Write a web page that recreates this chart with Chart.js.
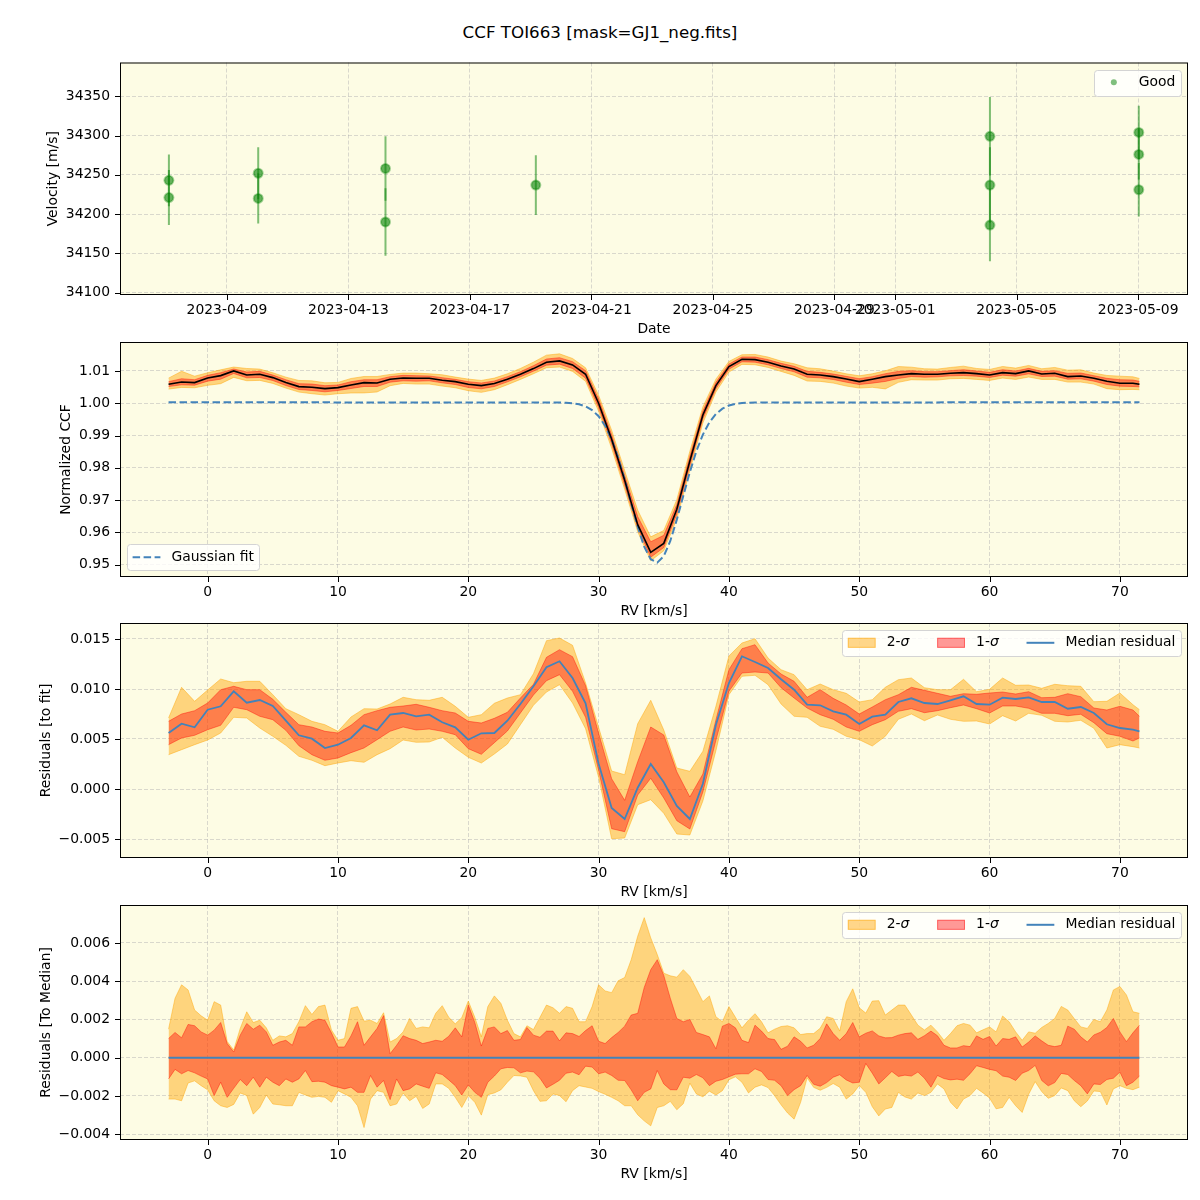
<!DOCTYPE html>
<html lang="en">
<head>
<meta charset="UTF-8">
<title>CCF TOI663 [mask=GJ1_neg.fits]</title>
<script src="https://cdn.jsdelivr.net/npm/chart.js"></script>
<style>
  body { margin: 0; background: #ffffff; }
  #fig { position: relative; width: 1200px; height: 1200px; font-family: "DejaVu Sans", sans-serif; color: #000; }
  #fig h1 { position: absolute; left: 0; top: 21px; width: 1200px; margin: 0; text-align: center; font-size: 16.7px; font-weight: normal; line-height: 22px; }
  #fig canvas { position: absolute; left: 0; }
</style>
</head>
<body>
<div id="fig">
  <h1>CCF TOI663 [mask=GJ1_neg.fits]</h1>
  <canvas id="rvChart" width="1200" height="283" style="top:56px"></canvas>
  <canvas id="ccfChart" width="1200" height="283" style="top:338px"></canvas>
  <canvas id="resChart" width="1200" height="283" style="top:619px"></canvas>
  <canvas id="devChart" width="1200" height="283" style="top:901px"></canvas>
</div>
<script>
// ---------- panel 1: RV time series (days counted from 2023-04-01) ----------
const obsDay = [6.09, 6.09, 9.03, 9.03, 13.22, 13.22, 18.17, 33.12, 33.12, 33.12, 38.02, 38.02, 38.02];
const obsVel = [34243, 34221, 34252, 34220, 34258, 34190, 34237, 34299, 34237, 34186, 34304, 34276, 34231];
const obsErr = [33, 35, 33, 32, 41, 43, 38, 50, 48, 46, 34, 32, 34];
const dateTicks = [8, 12, 16, 20, 24, 28, 30, 34, 38];
const dateLabels = ['2023-04-09', '2023-04-13', '2023-04-17', '2023-04-21', '2023-04-25',
                    '2023-04-29', '2023-05-01', '2023-05-05', '2023-05-09'];

// ---------- panels 2 and 3: 1 km/s grid ----------
const rvCoarse = [-3, -2, -1, 0, 1, 2, 3, 4, 5, 6, 7, 8, 9, 10, 11, 12, 13, 14, 15, 16, 17, 18, 19, 20,
  21, 22, 23, 24, 25, 26, 27, 28, 29, 30, 31, 32, 33, 34, 35, 36, 37, 38, 39, 40, 41, 42, 43, 44, 45,
  46, 47, 48, 49, 50, 51, 52, 53, 54, 55, 56, 57, 58, 59, 60, 61, 62, 63, 64, 65, 66, 67, 68, 69, 70, 71, 71.5];

const ccfMedian = [
  1.00589, 1.00661, 1.00640, 1.00785, 1.00857, 1.01002, 1.00878, 1.00899, 1.00795, 1.00640,
  1.00517, 1.00496, 1.00455, 1.00486, 1.00568, 1.00640, 1.00630, 1.00744, 1.00785, 1.00775,
  1.00775, 1.00713, 1.00671, 1.00589, 1.00548, 1.00610, 1.00744, 1.00899, 1.01074, 1.01271,
  1.01312, 1.01188, 1.00899, 1.00000, 0.98884, 0.97614, 0.96240, 0.95382, 0.95661, 0.96715,
  0.98213, 0.99638, 1.00548, 1.01136, 1.01364, 1.01353, 1.01271, 1.01157, 1.01064, 1.00899,
  1.00878, 1.00826, 1.00754, 1.00671, 1.00744, 1.00826, 1.00878, 1.00919, 1.00899, 1.00899,
  1.00930, 1.00950, 1.00919, 1.00878, 1.00950, 1.00919, 1.01002, 1.00909, 1.00930, 1.00826,
  1.00847, 1.00775, 1.00682, 1.00620, 1.00620, 1.00589];
const ccf2Hi = [
  1.00779, 1.00991, 1.00840, 1.00945, 1.01037, 1.01122, 1.01078, 1.01059, 1.00945, 1.00810,
  1.00707, 1.00696, 1.00635, 1.00646, 1.00768, 1.00830, 1.00830, 1.00894, 1.00935, 1.00935,
  1.00915, 1.00883, 1.00811, 1.00749, 1.00708, 1.00780, 1.00914, 1.01079, 1.01274, 1.01491,
  1.01532, 1.01388, 1.01099, 1.00250, 0.99164, 0.97914, 0.96690, 0.95862, 0.96061, 0.97015,
  0.98513, 0.99888, 1.00748, 1.01296, 1.01504, 1.01513, 1.01431, 1.01307, 1.01224, 1.01099,
  1.01068, 1.00996, 1.00914, 1.00851, 1.00914, 1.01006, 1.01138, 1.01119, 1.01069, 1.01059,
  1.01110, 1.01150, 1.01079, 1.01048, 1.01140, 1.01089, 1.01172, 1.01069, 1.01110, 1.01026,
  1.01037, 1.00935, 1.00862, 1.00840, 1.00820, 1.00769];
const ccf1Hi = [
  1.00669, 1.00761, 1.00730, 1.00865, 1.00947, 1.01062, 1.00968, 1.00989, 1.00875, 1.00730,
  1.00607, 1.00596, 1.00545, 1.00566, 1.00668, 1.00730, 1.00730, 1.00824, 1.00865, 1.00855,
  1.00845, 1.00793, 1.00741, 1.00669, 1.00628, 1.00690, 1.00824, 1.00979, 1.01164, 1.01371,
  1.01412, 1.01288, 1.01009, 1.00130, 0.99024, 0.97764, 0.96490, 0.95712, 0.95911, 0.96865,
  0.98363, 0.99758, 1.00648, 1.01216, 1.01434, 1.01433, 1.01351, 1.01237, 1.01144, 1.00989,
  1.00958, 1.00906, 1.00834, 1.00761, 1.00824, 1.00916, 1.00988, 1.01009, 1.00979, 1.00979,
  1.01010, 1.01040, 1.00999, 1.00958, 1.01040, 1.00999, 1.01082, 1.00989, 1.01010, 1.00926,
  1.00937, 1.00855, 1.00772, 1.00730, 1.00720, 1.00679];
const ccf1Lo = [
  1.00519, 1.00571, 1.00560, 1.00685, 1.00747, 1.00922, 1.00788, 1.00799, 1.00705, 1.00550,
  1.00427, 1.00396, 1.00355, 1.00396, 1.00458, 1.00520, 1.00520, 1.00654, 1.00695, 1.00685,
  1.00695, 1.00633, 1.00581, 1.00489, 1.00448, 1.00520, 1.00664, 1.00819, 1.00994, 1.01181,
  1.01212, 1.01078, 1.00779, 0.99870, 0.98744, 0.97464, 0.96140, 0.95232, 0.95531, 0.96565,
  0.98063, 0.99518, 1.00448, 1.01056, 1.01284, 1.01273, 1.01191, 1.01077, 1.00974, 1.00809,
  1.00788, 1.00736, 1.00654, 1.00581, 1.00624, 1.00676, 1.00768, 1.00829, 1.00809, 1.00819,
  1.00850, 1.00860, 1.00839, 1.00798, 1.00870, 1.00839, 1.00912, 1.00829, 1.00840, 1.00746,
  1.00757, 1.00685, 1.00582, 1.00530, 1.00520, 1.00509];
const ccf2Lo = [
  1.00439, 1.00491, 1.00480, 1.00555, 1.00607, 1.00802, 1.00698, 1.00709, 1.00615, 1.00470,
  1.00347, 1.00296, 1.00255, 1.00296, 1.00318, 1.00320, 1.00350, 1.00544, 1.00615, 1.00595,
  1.00595, 1.00533, 1.00481, 1.00389, 1.00338, 1.00420, 1.00574, 1.00739, 1.00914, 1.01101,
  1.01122, 1.00988, 1.00679, 0.99750, 0.98604, 0.97334, 0.96020, 0.95122, 0.95431, 0.96415,
  0.97913, 0.99388, 1.00348, 1.00966, 1.01204, 1.01193, 1.01111, 1.00987, 1.00864, 1.00689,
  1.00678, 1.00626, 1.00534, 1.00471, 1.00494, 1.00446, 1.00648, 1.00729, 1.00719, 1.00719,
  1.00760, 1.00770, 1.00739, 1.00708, 1.00780, 1.00739, 1.00812, 1.00739, 1.00740, 1.00656,
  1.00657, 1.00595, 1.00452, 1.00420, 1.00430, 1.00419];

const gaussRv = [-3, 27, 27.5, 28, 28.5, 29, 29.5, 30, 30.5, 31, 31.5, 32, 32.5, 33, 33.5, 34, 34.5,
  35, 35.5, 36, 36.5, 37, 37.5, 38, 38.5, 39, 39.5, 40, 40.5, 41, 42, 71.5];
const gaussCcf = [1.00030, 1.00025, 1.00018, 1.00001, 0.99968, 0.99904, 0.99789, 0.99598, 0.99302,
  0.98879, 0.98318, 0.97639, 0.96894, 0.96168, 0.95557, 0.95169, 0.95065, 0.95264, 0.95736, 0.96392,
  0.97137, 0.97868, 0.98514, 0.99029, 0.99410, 0.99669, 0.99833, 0.99929, 0.99981, 1.00008, 1.00026, 1.00030];

// residuals to the fit, in units of 1e-3
const resMed = [
  5.60, 6.53, 6.17, 7.93, 8.27, 9.77, 8.63, 8.90, 8.30, 6.83,
  5.37, 5.03, 4.10, 4.43, 5.10, 6.37, 5.87, 7.43, 7.60, 7.27,
  7.43, 6.67, 6.17, 4.93, 5.57, 5.60, 6.83, 8.50, 10.27, 12.17,
  12.77, 11.10, 8.57, 2.53, -1.90, -3.00, 0.13, 2.50, 0.67, -1.69,
  -3.00, 0.53, 6.43, 10.60, 13.27, 12.70, 12.10, 10.97, 9.93, 8.43,
  8.37, 7.77, 7.43, 6.50, 7.23, 7.43, 8.70, 9.07, 8.60, 8.50,
  8.87, 9.27, 8.50, 8.43, 9.13, 9.00, 9.17, 8.70, 8.70, 8.03,
  8.20, 7.60, 6.47, 6.10, 5.93, 5.77];
const res1Hi = [
  6.77, 7.50, 7.83, 8.60, 9.93, 10.27, 9.93, 9.93, 8.97, 7.67,
  6.43, 6.20, 5.77, 5.60, 6.37, 7.43, 7.83, 8.17, 8.30, 8.47,
  8.17, 7.83, 7.60, 6.77, 6.60, 7.07, 7.67, 9.10, 10.47, 13.17,
  13.93, 13.23, 10.33, 5.57, 1.03, -1.13, 2.73, 6.20, 5.40, 1.72,
  -0.80, 1.50, 6.90, 11.93, 14.03, 14.43, 12.60, 11.50, 10.77, 9.17,
  9.93, 9.07, 8.40, 7.50, 8.20, 8.93, 9.43, 10.17, 9.87, 9.57,
  9.27, 9.53, 9.47, 9.60, 9.70, 9.50, 9.73, 9.13, 9.17, 9.53,
  9.23, 8.10, 7.90, 8.27, 7.90, 7.27];
const res1Lo = [
  4.43, 5.10, 5.37, 5.93, 6.37, 8.17, 7.93, 7.27, 6.93, 5.87,
  4.33, 3.43, 2.87, 3.10, 3.63, 4.10, 4.93, 5.77, 6.20, 5.90,
  6.00, 5.77, 5.43, 4.03, 3.47, 4.63, 5.80, 7.60, 9.40, 10.83,
  11.43, 9.77, 7.17, 1.87, -3.97, -4.27, -0.60, 1.07, -0.90, -3.17,
  -4.00, -0.30, 4.87, 9.77, 11.60, 11.70, 11.60, 10.13, 9.10, 8.10,
  7.43, 6.97, 6.20, 5.77, 6.43, 6.93, 7.77, 8.03, 7.63, 7.83,
  8.13, 8.40, 8.03, 7.60, 8.30, 8.30, 8.07, 7.57, 7.57, 7.33,
  7.47, 6.63, 5.53, 5.27, 4.80, 5.10];
const res2Hi = [
  7.10, 10.17, 8.77, 9.90, 11.00, 10.63, 10.77, 10.77, 9.43, 8.03,
  7.43, 6.77, 6.43, 5.77, 7.20, 8.03, 8.00, 8.50, 9.17, 8.93,
  8.87, 9.17, 8.27, 7.17, 7.43, 8.57, 9.10, 9.43, 11.53, 14.83,
  15.10, 14.37, 10.60, 6.17, 1.80, 1.43, 6.53, 8.87, 5.90, 2.10,
  1.77, 3.77, 8.27, 13.30, 14.60, 15.03, 13.10, 11.93, 11.43, 9.93,
  10.50, 9.93, 9.57, 8.70, 8.93, 10.17, 10.93, 11.10, 10.13, 9.93,
  9.93, 10.97, 9.73, 9.97, 11.10, 10.37, 10.40, 10.07, 10.47, 10.33,
  10.27, 8.73, 8.77, 9.60, 8.43, 7.93];
const res2Lo = [
  3.43, 3.93, 4.43, 4.90, 5.60, 7.17, 7.10, 6.10, 5.27, 4.37,
  3.27, 2.87, 2.33, 2.60, 2.83, 2.67, 3.43, 4.03, 4.90, 4.67,
  4.70, 5.17, 4.10, 3.17, 2.60, 3.50, 4.50, 6.43, 8.37, 9.70,
  10.43, 8.60, 6.03, 1.17, -4.97, -4.90, -1.57, -1.07, -2.43, -4.50,
  -4.60, -1.20, 3.83, 9.43, 11.27, 11.37, 10.43, 8.50, 7.27, 7.17,
  6.27, 5.97, 5.27, 4.93, 4.30, 5.27, 6.97, 7.50, 6.83, 7.40,
  6.97, 6.77, 6.80, 6.50, 7.33, 6.80, 7.57, 7.37, 6.77, 6.70,
  6.87, 6.07, 4.10, 4.43, 4.23, 4.10];

// ---------- panel 4: 0.5 km/s grid, residuals to the median, units of 1e-3 ----------
const rvFine = [-3, -2.5, -2, -1.5, -1, -0.5, 0, 0.5, 1, 1.5, 2, 2.5, 3, 3.5, 4, 4.5, 5, 5.5, 6, 6.5,
  7, 7.5, 8, 8.5, 9, 9.5, 10, 10.5, 11, 11.5, 12, 12.5, 13, 13.5, 14, 14.5, 15, 15.5, 16, 16.5,
  17, 17.5, 18, 18.5, 19, 19.5, 20, 20.5, 21, 21.5, 22, 22.5, 23, 23.5, 24, 24.5, 25, 25.5, 26, 26.5,
  27, 27.5, 28, 28.5, 29, 29.5, 30, 30.5, 31, 31.5, 32, 32.5, 33, 33.5, 34, 34.5, 35, 35.5, 36, 36.5,
  37, 37.5, 38, 38.5, 39, 39.5, 40, 40.5, 41, 41.5, 42, 42.5, 43, 43.5, 44, 44.5, 45, 45.5, 46, 46.5,
  47, 47.5, 48, 48.5, 49, 49.5, 50, 50.5, 51, 51.5, 52, 52.5, 53, 53.5, 54, 54.5, 55, 55.5, 56, 56.5,
  57, 57.5, 58, 58.5, 59, 59.5, 60, 60.5, 61, 61.5, 62, 62.5, 63, 63.5, 64, 64.5, 65, 65.5, 66, 66.5,
  67, 67.5, 68, 68.5, 69, 69.5, 70, 70.5, 71, 71.5];
const dev2Hi = [
  1.49, 3.11, 3.81, 3.54, 2.49, 2.19, 1.96, 2.93, 2.75, 0.85,
  0.40, 1.53, 2.40, 1.84, 1.96, 1.56, 0.91, 1.14, 1.09, 1.26,
  1.88, 2.72, 2.26, 2.67, 2.75, 1.45, 0.91, 1.00, 2.58, 2.67,
  1.91, 1.96, 1.79, 2.35, 0.82, 1.00, 1.35, 2.05, 1.53, 1.61,
  1.56, 2.32, 2.72, 2.11, 1.77, 2.09, 2.96, 2.11, 1.09, 2.67,
  3.23, 2.84, 1.96, 1.26, 1.09, 1.67, 1.47, 2.11, 2.75, 2.61,
  2.32, 2.67, 2.58, 1.88, 1.88, 2.67, 3.81, 3.49, 3.40, 4.02,
  4.19, 5.12, 6.35, 7.32, 6.26, 5.39, 4.42, 4.28, 4.21, 4.60,
  4.25, 3.60, 2.93, 3.23, 2.14, 1.88, 2.67, 2.11, 1.56, 1.96,
  2.30, 1.88, 1.30, 1.49, 1.63, 1.67, 1.56, 1.21, 1.26, 1.26,
  1.54, 2.14, 2.05, 1.39, 2.93, 3.60, 2.61, 2.33, 2.96, 2.98,
  2.23, 2.49, 2.75, 2.75, 2.23, 1.70, 1.45, 1.70, 1.35, 0.91,
  1.26, 1.67, 1.79, 1.70, 1.30, 1.46, 1.61, 1.35, 2.18, 1.88,
  1.35, 0.91, 1.35, 1.28, 1.58, 1.79, 2.05, 2.68, 2.49, 2.04,
  1.61, 1.53, 2.00, 1.88, 2.49, 3.54, 3.72, 3.28, 2.40, 2.32];
const dev1Hi = [
  1.00, 1.32, 1.04, 1.74, 1.67, 1.35, 1.18, 1.44, 1.84, 0.74,
  0.30, 1.18, 1.79, 1.49, 1.70, 1.35, 0.65, 0.82, 0.91, 0.65,
  1.61, 1.61, 1.88, 2.02, 1.96, 1.30, 0.56, 0.56, 1.14, 1.88,
  0.65, 1.09, 1.53, 2.20, 0.21, 0.65, 1.15, 1.00, 0.91, 0.74,
  0.82, 0.91, 0.86, 1.12, 1.56, 1.09, 2.75, 1.84, 0.61, 1.53,
  1.61, 1.26, 1.42, 0.91, 0.95, 1.58, 1.18, 1.07, 1.39, 1.39,
  0.88, 1.30, 1.26, 1.11, 1.42, 1.67, 0.86, 0.74, 1.05, 1.32,
  1.65, 2.23, 2.32, 3.67, 4.60, 5.12, 4.30, 3.11, 2.05, 1.88,
  2.00, 1.32, 1.21, 1.09, 0.47, 1.65, 1.79, 1.56, 0.91, 0.79,
  1.70, 1.39, 1.00, 0.95, 0.44, 0.60, 1.09, 0.86, 0.51, 0.65,
  1.00, 1.77, 1.26, 0.91, 1.26, 1.84, 1.09, 1.28, 1.40, 1.14,
  1.04, 1.05, 1.18, 1.26, 1.30, 0.96, 1.15, 1.39, 1.15, 0.65,
  0.51, 0.51, 0.63, 0.58, 1.14, 0.96, 1.11, 0.61, 1.00, 0.96,
  1.09, 0.56, 0.82, 1.14, 0.88, 0.65, 0.58, 0.65, 1.65, 1.49,
  1.09, 0.82, 1.19, 1.33, 1.58, 2.05, 1.35, 0.84, 1.30, 1.70];
const dev1Lo = [
  -1.11, -0.61, -0.84, -0.67, -0.79, -0.96, -1.11, -1.98, -1.28, -2.07,
  -1.60, -1.14, -1.46, -1.02, -1.54, -1.02, -1.28, -1.46, -1.11, -1.28,
  -1.11, -0.67, -1.25, -1.23, -1.28, -1.46, -1.54, -1.63, -1.54, -1.81,
  -1.81, -0.93, -1.54, -1.19, -2.19, -1.11, -1.72, -1.63, -1.37, -1.49,
  -1.60, -0.79, -0.88, -1.16, -1.46, -1.95, -1.42, -1.81, -2.07, -1.28,
  -0.96, -0.58, -0.51, -0.53, -0.79, -0.70, -0.74, -1.07, -1.58, -1.39,
  -1.18, -0.81, -0.75, -0.89, -0.44, -0.49, -0.84, -0.75, -0.93, -1.18,
  -1.19, -1.68, -2.25, -1.81, -1.63, -0.67, -1.37, -1.67, -1.68, -1.02,
  -1.07, -0.88, -1.05, -1.46, -1.23, -1.14, -1.00, -0.86, -0.84, -0.84,
  -0.58, -0.72, -1.14, -1.18, -1.46, -1.98, -1.67, -1.46, -0.93, -1.39,
  -1.49, -1.30, -1.02, -0.89, -1.16, -1.32, -1.28, -0.30, -0.81, -1.37,
  -1.05, -0.72, -0.98, -0.91, -0.96, -0.75, -1.07, -1.54, -0.93, -1.09,
  -1.16, -1.12, -1.18, -0.84, -0.42, -0.51, -0.61, -0.68, -0.96, -1.02,
  -1.19, -0.81, -0.67, -0.40, -1.19, -1.47, -1.30, -0.82, -0.88, -1.19,
  -1.46, -1.89, -1.37, -1.40, -1.14, -1.07, -0.75, -1.46, -1.28, -0.96];
const dev2Lo = [
  -2.16, -2.16, -2.25, -1.32, -1.21, -1.46, -1.68, -2.25, -2.51, -2.60,
  -2.44, -1.84, -1.98, -2.95, -2.60, -1.95, -2.42, -2.46, -2.51, -2.51,
  -1.81, -1.95, -2.07, -2.02, -2.07, -2.33, -1.72, -1.89, -2.07, -2.51,
  -3.65, -2.16, -1.72, -1.81, -2.51, -2.42, -1.85, -2.25, -2.02, -2.65,
  -2.42, -1.37, -1.37, -1.60, -2.07, -2.60, -1.98, -2.33, -3.00, -1.93,
  -1.84, -1.68, -1.28, -0.93, -0.95, -1.02, -1.72, -2.28, -2.25, -1.89,
  -1.98, -2.30, -1.72, -1.46, -1.53, -1.60, -1.77, -1.91, -2.07, -2.25,
  -2.51, -2.51, -2.98, -3.30, -3.56, -2.60, -2.51, -2.28, -2.72, -2.40,
  -1.33, -1.89, -2.04, -1.75, -1.95, -1.72, -1.15, -1.00, -1.28, -1.84,
  -1.54, -1.42, -1.56, -1.98, -2.46, -2.89, -3.21, -2.33, -1.05, -1.55,
  -1.70, -1.55, -1.35, -1.54, -2.16, -1.89, -1.45, -1.81, -2.56, -3.04,
  -2.68, -2.60, -1.81, -2.05, -2.16, -1.84, -1.98, -1.81, -1.37, -1.63,
  -2.33, -2.68, -2.16, -1.98, -1.60, -1.84, -2.11, -2.67, -2.60, -2.07,
  -2.51, -2.86, -1.91, -1.25, -1.77, -2.12, -1.98, -1.58, -1.72, -2.25,
  -2.56, -2.26, -1.74, -1.77, -2.47, -1.63, -1.46, -1.60, -1.67, -1.54];
const devLineRv = [-3, 71.5];
const devLine = [0, 0];

// ---------- styling ----------
Chart.defaults.font.family = '"DejaVu Sans", sans-serif';
Chart.defaults.font.size = 13.9;
Chart.defaults.color = '#000';
Chart.defaults.animation = false;
Chart.defaults.events = [];
Chart.defaults.plugins.legend.display = false;
Chart.defaults.plugins.tooltip.enabled = false;

const PLOT_BG = '#fdfce4';
const GRID = 'rgba(176,176,176,0.6)';
const BLUE = '#4383ba';
const BAND2 = 'rgba(255,165,0,0.45)';
const BAND1 = 'rgba(255,0,0,0.4)';
const GREEN_PT = 'rgba(0,128,0,0.6)';
const GREEN_BAR = 'rgba(0,128,0,0.5)';
const milli = arr => arr.map(v => v / 1000);

// yellow plot area, black frame and outward tick marks
const frame = {
  id: 'frame',
  beforeDraw(chart) {
    const { ctx, chartArea: a } = chart;
    ctx.save();
    ctx.fillStyle = PLOT_BG;
    ctx.fillRect(a.left, a.top, a.right - a.left, a.bottom - a.top);
    ctx.restore();
  },
  afterDraw(chart) {
    const { ctx, chartArea: a, scales } = chart;
    ctx.save();
    ctx.strokeStyle = '#000';
    ctx.lineWidth = 1;
    ctx.strokeRect(a.left + 0.5, a.top + 0.5, a.right - a.left - 1, a.bottom - a.top - 1);
    ctx.beginPath();
    scales.x.ticks.forEach((t, i) => {
      const px = Math.round(scales.x.getPixelForTick(i)) + 0.5;
      ctx.moveTo(px, a.bottom); ctx.lineTo(px, a.bottom + 5);
    });
    scales.y.ticks.forEach((t, i) => {
      const py = Math.round(scales.y.getPixelForTick(i)) + 0.5;
      ctx.moveTo(a.left - 5, py); ctx.lineTo(a.left, py);
    });
    ctx.stroke();
    ctx.restore();
  }
};

// matplotlib-like legend box inside the axes
const boxLegend = {
  id: 'boxLegend',
  afterDraw(chart, args, opts) {
    const items = opts.items;
    if (!items) return;
    const ctx = chart.ctx, a = chart.chartArea;
    const font = '13.9px "DejaVu Sans"', ifont = 'italic 13.9px "DejaVu Sans"';
    ctx.save();
    const widths = items.map(it => {
      ctx.font = font;
      let w = ctx.measureText(it.label).width;
      if (it.em) { ctx.font = ifont; w += ctx.measureText(it.em).width; }
      return w;
    });
    const pad = 5.6, handle = 27.8, gap = 11.1, col = 27.8, h = 25.6;
    const w = pad * 2 + widths.reduce((s, tw) => s + handle + gap + tw, 0) + col * (items.length - 1);
    const x0 = opts.corner === 'bl' ? a.left + 7 : a.right - 7 - w;
    const y0 = opts.corner === 'bl' ? a.bottom - 7 - h : a.top + 7;
    ctx.beginPath();
    ctx.roundRect(Math.round(x0) + 0.5, Math.round(y0) + 0.5, Math.round(w), Math.round(h), 3);
    ctx.fillStyle = 'rgba(255,255,255,0.8)';
    ctx.fill();
    ctx.strokeStyle = '#d4d4d4';
    ctx.lineWidth = 1;
    ctx.stroke();
    const cy = y0 + h / 2;
    let x = x0 + pad;
    items.forEach((it, i) => {
      ctx.save();
      if (it.sym === 'patch') {
        ctx.fillStyle = it.color;
        ctx.fillRect(x, cy - 5, handle, 10);
        ctx.strokeStyle = it.color;
        ctx.strokeRect(x + 0.5, cy - 4.5, handle - 1, 9);
      } else if (it.sym === 'line' || it.sym === 'dash') {
        ctx.strokeStyle = it.color;
        ctx.lineWidth = 2;
        if (it.sym === 'dash') ctx.setLineDash([7.5, 3.5]);
        ctx.beginPath(); ctx.moveTo(x, cy); ctx.lineTo(x + handle, cy); ctx.stroke();
      } else if (it.sym === 'dot') {
        ctx.fillStyle = it.color;
        ctx.beginPath(); ctx.arc(x + handle / 2, cy, 3, 0, Math.PI * 2); ctx.fill();
      }
      ctx.restore();
      let tx = x + handle + gap;
      ctx.fillStyle = '#000';
      ctx.textBaseline = 'middle';
      ctx.textAlign = 'left';
      ctx.font = font;
      ctx.fillText(it.label, tx, cy);
      if (it.em) {
        tx += ctx.measureText(it.label).width;
        ctx.font = ifont;
        ctx.fillText(it.em, tx, cy);
      }
      x += handle + gap + widths[i] + col;
    });
    ctx.restore();
  }
};

function fmt(digits) {
  return v => digits == null ? String(v) : (v < -1e-12 ? '\u2212' : '') + Math.abs(v).toFixed(digits);
}

function yAxis(min, max, step, digits, title, titleCenter) {
  return {
    type: 'linear', min, max,
    ticks: { stepSize: step, includeBounds: false, padding: 10, callback: fmt(digits) },
    grid: { color: GRID, lineWidth: 0.8, drawTicks: false },
    border: { display: false, dash: [4, 2] },
    title: { display: true, text: title, padding: { top: titleCenter - 8.34, bottom: 0 } },
    afterFit(s) { s.width = 120; s.paddingTop = 0; s.paddingBottom = 0; }
  };
}

function xAxisBase(title) {
  return {
    type: 'linear',
    grid: { color: GRID, lineWidth: 0.8, drawTicks: false },
    border: { display: false, dash: [4, 2] },
    title: { display: true, text: title, padding: { top: 0, bottom: 1 } },
    afterFit(s) { s.height = 44; s.paddingLeft = 0; s.paddingRight = 0; }
  };
}

function rvAxis() {
  return Object.assign(xAxisBase('RV [km/s]'), {
    min: -6.725, max: 75.225,
    ticks: { stepSize: 10, includeBounds: false, padding: 7, maxRotation: 0 }
  });
}

function series(xs, ys, extra) {
  return Object.assign({
    data: xs.map((x, i) => ({ x, y: ys[i] })),
    pointRadius: 0, borderWidth: 0, fill: false, tension: 0
  }, extra);
}

function bands(xs, hi1, lo1, hi2, lo2) {
  return [
    series(xs, hi1, { fill: '+1', backgroundColor: BAND1, borderColor: BAND1, borderWidth: 1, order: 1 }),
    series(xs, lo1, { borderColor: BAND1, borderWidth: 1, order: 1 }),
    series(xs, hi2, { fill: '+1', backgroundColor: BAND2, borderColor: BAND2, borderWidth: 1, order: 2 }),
    series(xs, lo2, { borderColor: BAND2, borderWidth: 1, order: 2 })
  ];
}

const common = {
  responsive: false,
  devicePixelRatio: 1,
  layout: { padding: { top: 4, right: 12, left: 0, bottom: 0 } }
};

const sigmaLegend = [
  { sym: 'patch', color: BAND2, label: '2-', em: 'σ' },
  { sym: 'patch', color: BAND1, label: '1-', em: 'σ' },
  { sym: 'line', color: BLUE, label: 'Median residual' }
];

// ---------- panel 1 ----------
const errorBars = obsDay.map((d, i) => ({
  showLine: true,
  data: [{ x: d, y: obsVel[i] - obsErr[i] }, { x: d, y: obsVel[i] + obsErr[i] }],
  borderColor: GREEN_BAR, borderWidth: 2, pointRadius: 0, order: 1
}));

new Chart(document.getElementById('rvChart'), {
  type: 'scatter',
  data: {
    datasets: [{
      data: obsDay.map((d, i) => ({ x: d, y: obsVel[i] })),
      pointRadius: 4.5, pointBackgroundColor: GREEN_PT,
      pointBorderColor: 'rgba(0,128,0,0.35)', pointBorderWidth: 2, order: 0
    }].concat(errorBars)
  },
  options: Object.assign({}, common, {
    scales: {
      x: Object.assign(xAxisBase('Date'), {
        min: 4.48, max: 39.64,
        afterBuildTicks(s) { s.ticks = dateTicks.map(v => ({ value: v })); },
        ticks: { autoSkip: false, maxRotation: 0, padding: 7, callback: (v, i) => dateLabels[i] }
      }),
      y: yAxis(34097, 34393, 50, null, 'Velocity [m/s]', 53)
    },
    plugins: { boxLegend: { corner: 'tr', items: [{ sym: 'dot', color: 'rgba(0,128,0,0.5)', label: 'Good' }] } }
  }),
  plugins: [frame, boxLegend]
});

// ---------- panel 2 ----------
new Chart(document.getElementById('ccfChart'), {
  type: 'line',
  data: {
    datasets: [
      series(rvCoarse, ccfMedian, { borderColor: '#000', borderWidth: 1.6, order: 0 }),
      series(gaussRv, gaussCcf, { borderColor: BLUE, borderWidth: 2, borderDash: [7.5, 3.5], order: 0 })
    ].concat(bands(rvCoarse, ccf1Hi, ccf1Lo, ccf2Hi, ccf2Lo))
  },
  options: Object.assign({}, common, {
    scales: { x: rvAxis(), y: yAxis(0.94619, 1.01898, 0.01, 2, 'Normalized CCF', 66) },
    plugins: { boxLegend: { corner: 'bl', items: [{ sym: 'dash', color: BLUE, label: 'Gaussian fit' }] } }
  }),
  plugins: [frame, boxLegend]
});

// ---------- panel 3 ----------
new Chart(document.getElementById('resChart'), {
  type: 'line',
  data: {
    datasets: [
      series(rvCoarse, milli(resMed), { borderColor: BLUE, borderWidth: 1.8, order: 0 })
    ].concat(bands(rvCoarse, milli(res1Hi), milli(res1Lo), milli(res2Hi), milli(res2Lo)))
  },
  options: Object.assign({}, common, {
    scales: { x: rvAxis(), y: yAxis(-0.0069, 0.0166, 0.005, 3, 'Residuals [to fit]', 46) },
    plugins: { boxLegend: { corner: 'tr', items: sigmaLegend } }
  }),
  plugins: [frame, boxLegend]
});

// ---------- panel 4 ----------
new Chart(document.getElementById('devChart'), {
  type: 'line',
  data: {
    datasets: [
      series(devLineRv, devLine, { borderColor: BLUE, borderWidth: 2, order: 0 })
    ].concat(bands(rvFine, milli(dev1Hi), milli(dev1Lo), milli(dev2Hi), milli(dev2Lo)))
  },
  options: Object.assign({}, common, {
    scales: { x: rvAxis(), y: yAxis(-0.0043, 0.00798, 0.002, 3, 'Residuals [To Median]', 46) },
    plugins: { boxLegend: { corner: 'tr', items: sigmaLegend } }
  }),
  plugins: [frame, boxLegend]
});
</script>
</body>
</html>
